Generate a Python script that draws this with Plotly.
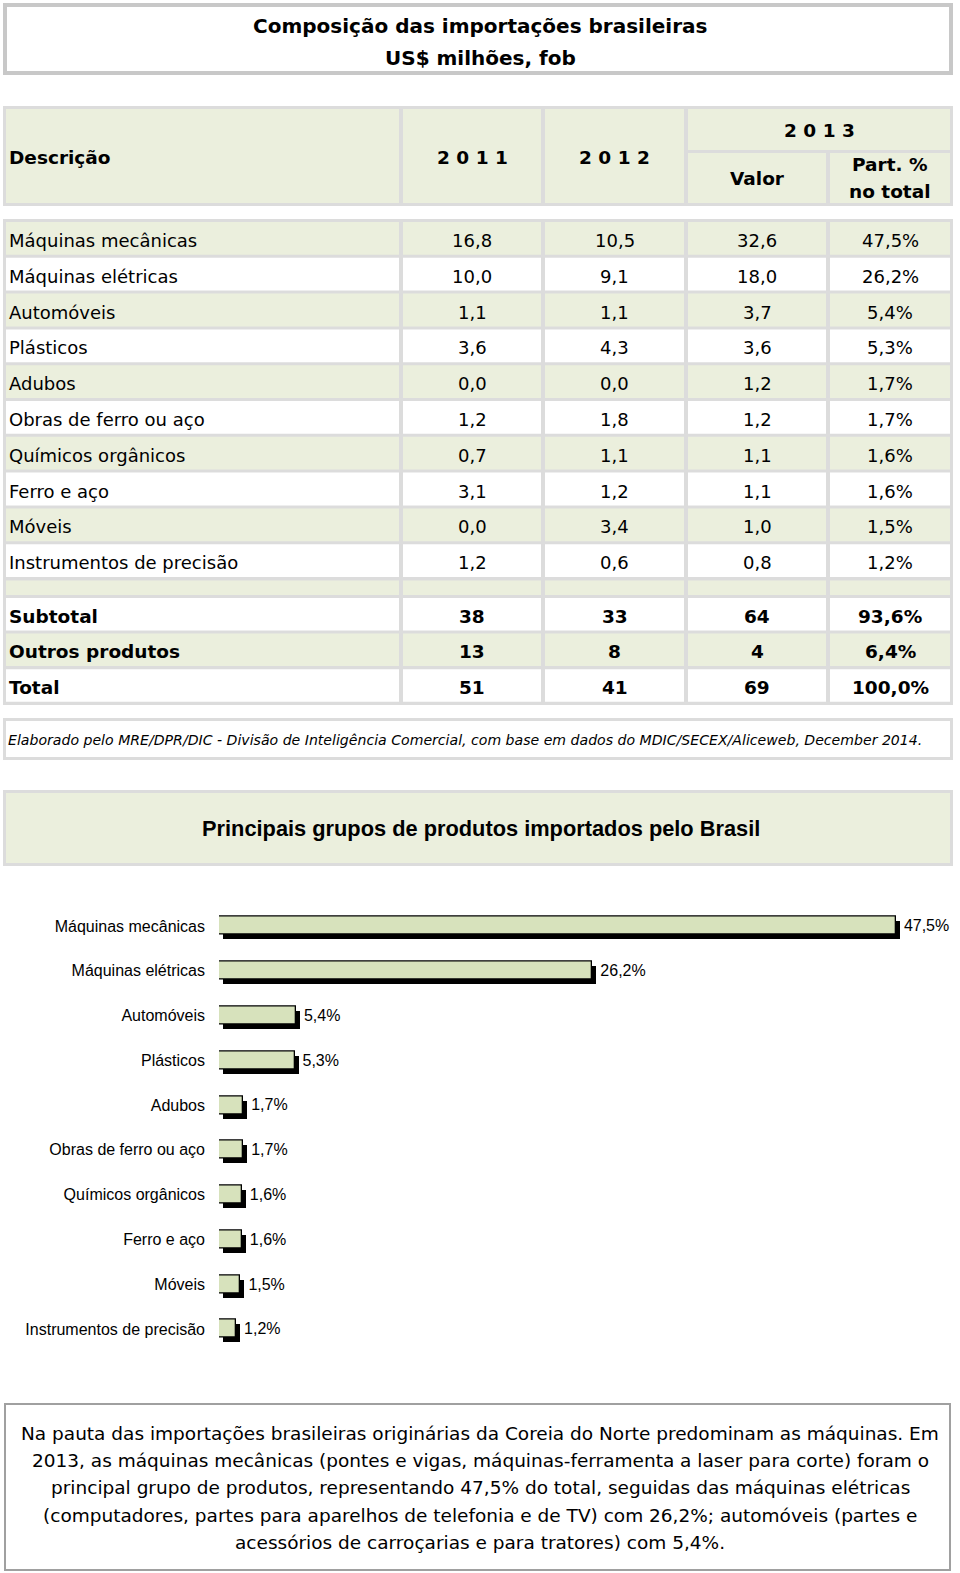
import plotly.graph_objects as go

# ---------------- data ----------------
title_lines = ["Composição das importações brasileiras", "US$ milhões, fob"]
categories = ["Máquinas mecânicas", "Máquinas elétricas", "Automóveis", "Plásticos", "Adubos",
              "Obras de ferro ou aço", "Químicos orgânicos", "Ferro e aço", "Móveis",
              "Instrumentos de precisão"]
v2011 = [16.8, 10.0, 1.1, 3.6, 0.0, 1.2, 0.7, 3.1, 0.0, 1.2]
v2012 = [10.5, 9.1, 1.1, 4.3, 0.0, 1.8, 1.1, 1.2, 3.4, 0.6]
v2013 = [32.6, 18.0, 3.7, 3.6, 1.2, 1.2, 1.1, 1.1, 1.0, 0.8]
part2013 = [47.5, 26.2, 5.4, 5.3, 1.7, 1.7, 1.6, 1.6, 1.5, 1.2]
summary_labels = ["Subtotal", "Outros produtos", "Total"]
sum2011 = [38, 13, 51]
sum2012 = [33, 8, 41]
sum2013 = [64, 4, 69]
sum_part = [93.6, 6.4, 100.0]
header_years = ["2 0 1 1", "2 0 1 2", "2 0 1 3"]
source_note = ("Elaborado pelo MRE/DPR/DIC - Divisão de Inteligência Comercial, com base em dados do "
               "MDIC/SECEX/Aliceweb, December 2014.")
chart_title = "Principais grupos de produtos importados pelo Brasil"
paragraph = [
    "Na pauta das importações brasileiras originárias da Coreia do Norte predominam as máquinas. Em",
    "2013, as máquinas mecânicas (pontes e vigas, máquinas-ferramenta a laser para corte) foram o",
    "principal grupo de produtos, representando 47,5% do total, seguidas das máquinas elétricas",
    "(computadores, partes para aparelhos de telefonia e de TV) com 26,2%; automóveis (partes e",
    "acessórios de carroçarias e para tratores) com 5,4%.",
]


def br(v, nd=1):
    return f"{v:.{nd}f}".replace(".", ",")


# ---------------- styles ----------------
W, H = 960, 1573
GREEN = "#EBEFDD"
GRID = "#DCDCDC"
BAR = "#D7E2BC"
TFONT = "DejaVu Sans"
AFONT = "Liberation Sans, Arial"

shapes = []
annots = []


def rect(x0, y0, x1, y1, fill, line=None, lw=0):
    shapes.append(dict(type="rect", xref="x2", yref="y2", x0=x0, y0=y0, x1=x1, y1=y1,
                       fillcolor=fill, line=dict(color=line or fill, width=lw), layer="below"))


def text(x, y, s, size=18, bold=False, italic=False, anchor="center", family=TFONT, color="#000"):
    if bold:
        s = f"<b>{s}</b>"
    if italic:
        s = f"<i>{s}</i>"
    annots.append(dict(xref="x2", yref="y2", x=x, y=y, text=s, showarrow=False,
                       xanchor=anchor, yanchor="middle",
                       font=dict(family=family, size=size, color=color)))


# ---------------- title box ----------------
rect(3, 3, 953, 75, "#C8C8C8")
rect(7, 7, 949, 71, "white")
text(480, 26, title_lines[0], size=20, bold=True)
text(480, 58, title_lines[1], size=20, bold=True)

# ---------------- table ----------------
cols = [(6, 399), (403, 541), (545, 684), (688, 826), (830, 950)]
centers = [(a + b) / 2 for a, b in cols]
TXT_DY = 2

# header
rect(3, 106, 953, 206, GRID)
for i, (a, b) in enumerate(cols):
    if i < 3:
        rect(a, 109, b, 203, GREEN)
rect(cols[3][0], 109, cols[4][1], 150, GREEN)
rect(cols[3][0], 153, cols[3][1], 203, GREEN)
rect(cols[4][0], 153, cols[4][1], 203, GREEN)
text(7, 157, "Descrição", size=18.5, bold=True, anchor="left")
text(centers[1], 157, header_years[0], size=18.5, bold=True)
text(centers[2], 157, header_years[1], size=18.5, bold=True)
text((cols[3][0] + cols[4][1]) / 2, 130, header_years[2], size=18.5, bold=True)
text(centers[3], 178, "Valor", size=18.5, bold=True)
text(centers[4], 164, "Part. %", size=18.5, bold=True)
text(centers[4], 191, "no total", size=18.5, bold=True)

# body
rect(3, 219, 953, 705, GRID)
step = 35.8
for i, cat in enumerate(categories):
    top = 222 + i * step
    bot = top + 32.8
    fill = GREEN if i % 2 == 0 else "white"
    for a, b in cols:
        rect(a, top, b, bot, fill)
    yc = (top + bot) / 2 + TXT_DY
    text(7, yc, cat, size=18, anchor="left")
    text(centers[1], yc, br(v2011[i]), size=18)
    text(centers[2], yc, br(v2012[i]), size=18)
    text(centers[3], yc, br(v2013[i]), size=18)
    text(centers[4], yc, br(part2013[i]) + "%", size=18)
# empty spacer row
for a, b in cols:
    rect(a, 580.5, b, 595, GREEN)
for j, lab in enumerate(summary_labels):
    top = 598 + j * 35.6
    bot = top + 32.5
    fill = "white" if j % 2 == 0 else GREEN
    for a, b in cols:
        rect(a, top, b, bot, fill)
    yc = (top + bot) / 2 + TXT_DY
    text(7, yc, lab, size=18.5, bold=True, anchor="left")
    text(centers[1], yc, str(sum2011[j]), size=18.5, bold=True)
    text(centers[2], yc, str(sum2012[j]), size=18.5, bold=True)
    text(centers[3], yc, str(sum2013[j]), size=18.5, bold=True)
    text(centers[4], yc, br(sum_part[j]) + "%", size=18.5, bold=True)

# source note
rect(3, 718, 953, 760, GRID)
rect(6, 721, 950, 757, "white")
text(6, 740, source_note, size=14.1, italic=True, anchor="left")

# chart title box
rect(3, 790, 953, 866, GRID)
rect(6, 793, 950, 863, GREEN)
text(481, 828, chart_title, size=21.8, bold=True, family=AFONT)

# paragraph box
rect(4, 1403, 951, 1571, "#A0A0A0")
rect(6, 1405, 949, 1569, "white")
for k, line in enumerate(paragraph):
    text(480, 1433 + k * 27.4, line, size=18.5)

# ---------------- bar chart ----------------
px_per_unit = 14.25
x0_px = 219
xmax = 50
row_px = 44.8
idx = list(range(len(categories)))
shadow_dx = 4 / px_per_unit
shadow_dy = 4 / row_px
label_dx = (4 + 4) / px_per_unit
bar_w = 18 / row_px

fig = go.Figure()
fig.add_trace(go.Bar(
    orientation="h", y=[i + shadow_dy for i in idx], x=part2013, base=shadow_dx,
    width=bar_w, marker=dict(color="black", line=dict(width=0)),
    hoverinfo="skip", xaxis="x", yaxis="y", showlegend=False))
fig.add_trace(go.Bar(
    orientation="h", y=idx, x=part2013, width=bar_w,
    marker=dict(color=BAR, line=dict(color="black", width=1.3)),
    xaxis="x", yaxis="y", showlegend=False))
fig.add_trace(go.Scatter(
    x=[v + label_dx for v in part2013], y=[i + 0.03 for i in idx], mode="text",
    text=[br(v) + "%" for v in part2013], textposition="middle right",
    textfont=dict(family=AFONT, size=16, color="black"), cliponaxis=False,
    hoverinfo="skip", xaxis="x", yaxis="y", showlegend=False))

# invisible trace to instantiate the overlay canvas axes
fig.add_trace(go.Scatter(x=[0, W], y=[0, H], mode="markers", marker=dict(opacity=0),
                         xaxis="x2", yaxis="y2", hoverinfo="skip", showlegend=False))

ytop = 926 - row_px / 2
ybot = 1329 + row_px / 2
fig.update_layout(
    width=W, height=H, margin=dict(l=0, r=0, t=0, b=0),
    paper_bgcolor="white", plot_bgcolor="rgba(0,0,0,0)",
    barmode="overlay", bargap=0,
    xaxis=dict(domain=[x0_px / W, (x0_px + xmax * px_per_unit) / W], range=[0, xmax],
               visible=False, fixedrange=True),
    yaxis=dict(domain=[1 - ybot / H, 1 - ytop / H], range=[len(categories) - 0.5, -0.5],
               tickvals=idx, ticktext=categories, showgrid=False, zeroline=False,
               showline=False, ticks="", ticklabelstandoff=13,
               tickfont=dict(family=AFONT, size=16, color="black"), anchor="x"),
    xaxis2=dict(domain=[0, 1], range=[0, W], visible=False, anchor="y2"),
    yaxis2=dict(domain=[0, 1], range=[H, 0], visible=False, anchor="x2"),
    shapes=shapes, annotations=annots,
)

fig.write_html("out.html", config={"displayModeBar": False},
               post_script="document.body.style.margin='0';document.body.style.overflow='hidden';")
